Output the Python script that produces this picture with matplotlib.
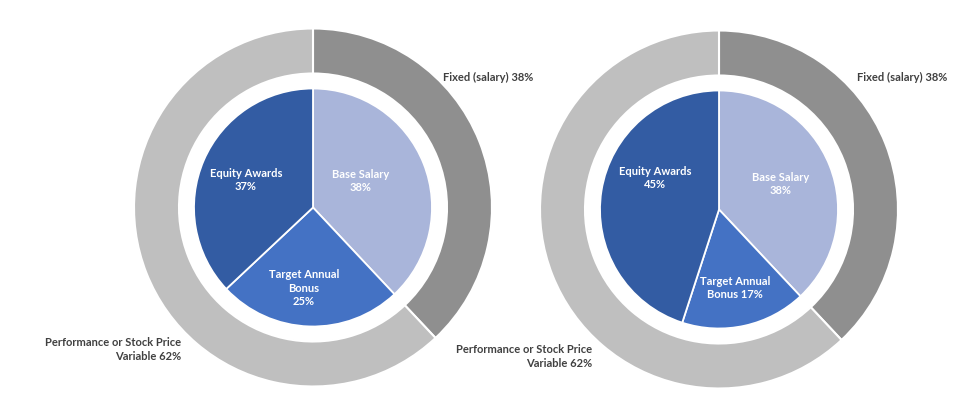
import matplotlib.pyplot as plt

# outer ring: fixed vs variable pay
ring_labels = ['Fixed (salary) 38%', 'Performance or Stock Price\nVariable 62%']
ring_left = [38, 62]
ring_right = [38, 62]

# inner pie: pay components
parts = ['Base Salary', 'Target Annual Bonus', 'Equity Awards']
pie_left = [38, 25, 37]
pie_right = [38, 17, 45]

ring_colors = ['#8f8f8f', '#bfbfbf']
pie_colors = ['#a9b5da', '#4472c4', '#335ca3']

W, H = 969, 396
fig = plt.figure(figsize=(W / 100, H / 100), dpi=100)
ax = fig.add_axes([0, 0, 1, 1])
plt.rcParams['font.family'] = ['Lato', 'DejaVu Sans']


def donut(cx, cy, ring, pie):
    ax.pie(ring, radius=179, center=(cx, cy), startangle=90, counterclock=False,
           colors=ring_colors,
           wedgeprops=dict(width=45, edgecolor='white', linewidth=1.5))
    ax.pie(pie, radius=119, center=(cx, cy), startangle=90, counterclock=False,
           colors=pie_colors,
           wedgeprops=dict(edgecolor='white', linewidth=1.3))


donut(313, H - 207.5, ring_left, pie_left)
donut(719, H - 209.5, ring_right, pie_right)

dark = '#404040'
fs = 8.0
kw_in = dict(color='white', fontsize=fs, fontweight='bold', ha='center', va='center',
             linespacing=1.3)
kw_out = dict(color=dark, fontsize=fs, fontweight='bold', va='center', linespacing=1.3)

# left chart labels
ax.text(443, H - 77, ring_labels[0], ha='left', **kw_out)
ax.text(181, H - 349.5, ring_labels[1], ha='right', multialignment='right', **kw_out)
ax.text(361, H - 181, f'{parts[0]}\n{pie_left[0]}%', **kw_in)
ax.text(246, H - 180, f'{parts[2]}\n{pie_left[2]}%', **kw_in)
ax.text(304, H - 288, f'Target Annual\nBonus\n{pie_left[1]}%', **kw_in)

# right chart labels
ax.text(857, H - 77, ring_labels[0], ha='left', **kw_out)
ax.text(592, H - 356.5, ring_labels[1], ha='right', multialignment='right', **kw_out)
ax.text(781, H - 184, f'{parts[0]}\n{pie_right[0]}%', **kw_in)
ax.text(655, H - 178, f'{parts[2]}\n{pie_right[2]}%', **kw_in)
ax.text(735, H - 288, f'Target Annual\nBonus {pie_right[1]}%', **kw_in)

ax.set_xlim(0, W)
ax.set_ylim(0, H)
ax.set_aspect('auto')
ax.axis('off')

plt.savefig('out.png', dpi=100)
